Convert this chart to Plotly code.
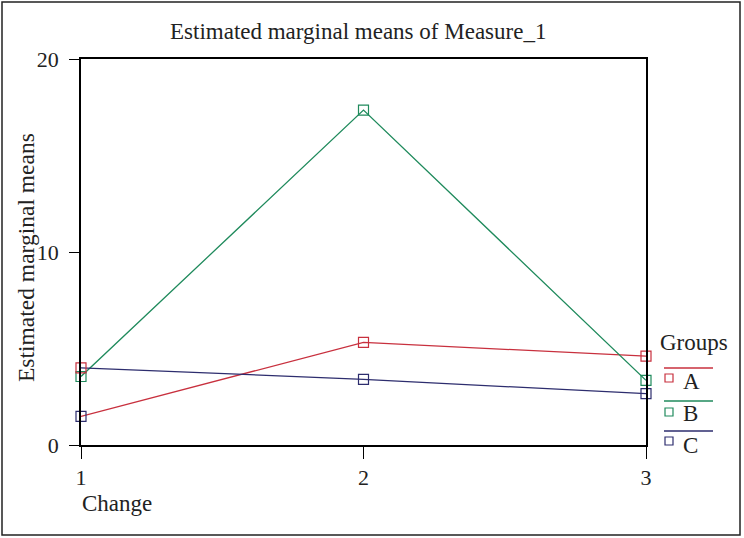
import plotly.graph_objects as go

# Data
change_levels = [1, 2, 3]
group_names = ["A", "B", "C"]
group_a = [1.48, 5.32, 4.6]
group_b = [3.55, 17.35, 3.35]
group_c = [4.0, 3.4, 2.66]
y_ticks = [0, 10, 20]

RED = "#c8303e"
GREEN = "#1f8a5c"
BLUE = "#2d2d6e"
FONT = "Liberation Serif"
TXT = "#222"

W, H = 744, 538
L, R, T, B = 81, 98, 59, 93
PW, PH = W - L - R, H - T - B

def px(x):
    return (x - L) / PW

def py(y):
    return (H - B - y) / PH

fig = go.Figure()

series = [
    ("A", group_a, RED, [BLUE, RED, RED]),
    ("B", group_b, GREEN, [GREEN, GREEN, GREEN]),
    ("C", group_c, BLUE, [RED, BLUE, BLUE]),
]
for name, vals, col, mcols in series:
    fig.add_trace(go.Scatter(
        x=change_levels, y=vals, name=name, mode="lines+markers",
        line=dict(color=col, width=1.3),
        marker=dict(symbol="square-open", size=10, color=mcols,
                    line=dict(width=1.2)),
        showlegend=False, cliponaxis=False,
    ))

fig.update_layout(
    width=W, height=H,
    margin=dict(l=L, r=R, t=T, b=B),
    paper_bgcolor="white", plot_bgcolor="white",
    font=dict(family=FONT, size=22, color=TXT),
    showlegend=False,
)
fig.update_xaxes(
    range=[1, 3], tickvals=change_levels, ticktext=[str(v) for v in change_levels],
    ticks="outside", ticklen=12, tickcolor="black", tickwidth=1.2,
    showline=True, linecolor="black", linewidth=1.5, mirror=True,
    showgrid=False, zeroline=False, ticklabelstandoff=0,
    tickfont=dict(family=FONT, size=22, color=TXT),
)
fig.update_yaxes(
    range=[0, 20], tickvals=y_ticks, ticktext=[str(v) for v in y_ticks],
    ticks="outside", ticklen=10, tickcolor="black", tickwidth=1.2,
    showline=True, linecolor="black", linewidth=1.5, mirror=True,
    showgrid=False, zeroline=False, ticklabelstandoff=6,
    tickfont=dict(family=FONT, size=22, color=TXT),
)

shapes = []
# outer border
shapes.append(dict(type="rect", xref="paper", yref="paper",
                   x0=px(2), x1=px(740), y0=py(535), y1=py(2),
                   line=dict(color="#222", width=1.5)))
annotations = [
    dict(text="Estimated marginal means of Measure_1", xref="paper", yref="paper",
         x=px(358), y=py(32), xanchor="center", yanchor="middle", showarrow=False,
         font=dict(family=FONT, size=23, color=TXT)),
    dict(text="Estimated marginal means", xref="paper", yref="paper",
         x=px(26), y=py(258), xanchor="center", yanchor="middle", textangle=-90,
         showarrow=False, font=dict(family=FONT, size=23.5, color=TXT)),
    dict(text="Change", xref="paper", yref="paper",
         x=px(80), y=py(503), xanchor="left", yanchor="middle", showarrow=False,
         font=dict(family=FONT, size=23, color=TXT)),
    dict(text="Groups", xref="paper", yref="paper",
         x=px(658), y=py(342), xanchor="left", yanchor="middle", showarrow=False,
         font=dict(family=FONT, size=23, color=TXT)),
]
leg_line_y = [368, 401, 431]
leg_mark_y = [378, 412, 441]
leg_text_y = [381, 413, 445]
leg_cols = [RED, GREEN, BLUE]
for i, name in enumerate(group_names):
    shapes.append(dict(type="line", xref="paper", yref="paper",
                       x0=px(664), x1=px(713), y0=py(leg_line_y[i]), y1=py(leg_line_y[i]),
                       line=dict(color=leg_cols[i], width=1.3)))
    shapes.append(dict(type="rect", xref="paper", yref="paper",
                       x0=px(665), x1=px(673), y0=py(leg_mark_y[i] + 4), y1=py(leg_mark_y[i] - 4),
                       line=dict(color=leg_cols[i], width=1.2)))
    annotations.append(dict(text=name, xref="paper", yref="paper",
                            x=px(681), y=py(leg_text_y[i]), xanchor="left", yanchor="middle",
                            showarrow=False, font=dict(family=FONT, size=23, color=TXT)))

fig.update_layout(shapes=shapes, annotations=annotations)
fig.write_html("out.html", config={"displayModeBar": False},
               post_script="document.body.style.margin='0';")
